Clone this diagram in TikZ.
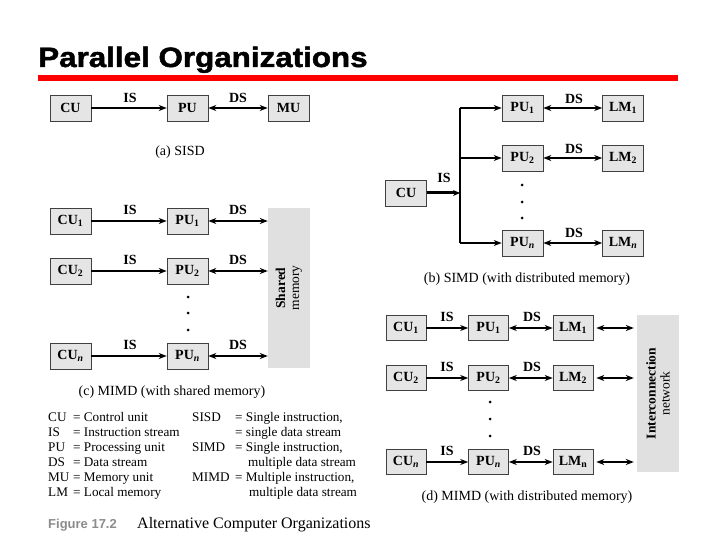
\documentclass[tikz,border=0pt]{standalone}
\usepackage{fontspec}
\setmainfont{Liberation Serif}
\newfontfamily\titlefont[BoldFont={Liberation Sans Bold}, BoldFeatures={FakeBold=1.6}]{Liberation Sans}
\newfontfamily\figfont{Liberation Sans}
\usetikzlibrary{arrows.meta}
\newcommand{\sub}[1]{\textsubscript{\textbf{#1}}}
\newcommand{\subn}{\textsubscript{\textbf{\textit{n}}}}
\begin{document}
\begin{tikzpicture}[x=1pt,y=-1pt,
  box/.style={draw=black!75, fill=black!10, minimum width=41pt, minimum height=26pt, inner sep=0pt,
    font=\fontsize{14}{14}\selectfont\bfseries, line width=0.6pt},
  lbl/.style={font=\fontsize{14}{14}\selectfont\bfseries, inner sep=0pt},
  captxt/.style={font=\fontsize{14}{14}\selectfont, inner sep=0pt},
  leg/.style={font=\fontsize{13.2}{14}\selectfont, inner sep=0pt, anchor=base west},
  arr/.style={-{Stealth[length=8pt,width=6pt]}, line width=1.5pt},
  darr/.style={{Stealth[length=8pt,width=6pt]}-{Stealth[length=8pt,width=6pt]}, line width=1.5pt},
  bigrect/.style={fill=black!12, inner sep=0pt},
  rottxt/.style={rotate=90, align=center, font=\fontsize{13.5}{14}\selectfont, inner sep=0pt},
  dotnode/.style={circle, fill=black, inner sep=0pt, minimum size=3pt}]
\useasboundingbox (0,0) rectangle (720,540);
\fill[white] (0,0) rectangle (720,540);
% title
\node[anchor=base west, inner sep=0pt, xscale=1.12, font=\titlefont\fontsize{28}{30}\selectfont\bfseries] (title) at (38,67) {Parallel Organizations};
\fill[red] (38,75.5) rectangle (678,81);

% (a) SISD
\node[box] (cuA) at (70.5,108) {CU};
\node[box] (puA) at (187.5,108) {PU};
\node[box] (muA) at (288.5,108) {MU};
\draw[arr] (cuA) -- (puA);
\draw[darr] (puA) -- (muA);
\node[lbl] (isA) at (130,98) {IS};
\node[lbl] (dsA) at (238,98) {DS};
\node[captxt] (capA) at (180,152) {(a) SISD};

% (b) SIMD
\node[box] (cuB) at (406,193) {CU};
\node[box] (pu1B) at (522.5,108) {PU\sub{1}};
\node[box] (pu2B) at (522.5,158) {PU\sub{2}};
\node[box] (punB) at (522.5,243) {PU\subn};
\node[box] (lm1B) at (623,108) {LM\sub{1}};
\node[box] (lm2B) at (623,158) {LM\sub{2}};
\node[box] (lmnB) at (623,243) {LM\subn};
\coordinate (b1) at (460,108);
\coordinate (b2) at (460,158);
\coordinate (bm) at (460,193);
\coordinate (bn) at (460,243);
\draw[line width=2pt] (b1) -- (bn);
\draw[-{Stealth[length=7pt,width=6pt]}, line width=3pt] (cuB) -- (bm);
\draw[arr] (b1) -- (pu1B);
\draw[arr] (b2) -- (pu2B);
\draw[arr] (bn) -- (punB);
\draw[darr] (pu1B) -- (lm1B);
\draw[darr] (pu2B) -- (lm2B);
\draw[darr] (punB) -- (lmnB);
\node[lbl] (isB) at (444,178) {IS};
\node[lbl] (ds1B) at (574,99) {DS};
\node[lbl] (ds2B) at (574,149) {DS};
\node[lbl] (dsnB) at (574,233) {DS};
\node[dotnode] (d1B) at (522,185) {};
\node[dotnode] (d2B) at (522,202) {};
\node[dotnode] (d3B) at (522,218) {};
\node[captxt] (capB) at (527,279) {(b) SIMD (with distributed memory)};

% (c) MIMD shared memory
\node[bigrect, minimum width=42pt, minimum height=160pt] (smC) at (289,288) {};
\node[rottxt] (smT) at (289,288) {\textbf{Shared}\\memory};
\node[box] (cu1C) at (70.5,221) {CU\sub{1}};
\node[box] (cu2C) at (70.5,271) {CU\sub{2}};
\node[box] (cunC) at (70.5,356) {CU\subn};
\node[box] (pu1C) at (187.5,221) {PU\sub{1}};
\node[box] (pu2C) at (187.5,271) {PU\sub{2}};
\node[box] (punC) at (187.5,356) {PU\subn};
\draw[arr] (cu1C) -- (pu1C);
\draw[arr] (cu2C) -- (pu2C);
\draw[arr] (cunC) -- (punC);
\draw[darr] (pu1C) -- (pu1C -| smC.west);
\draw[darr] (pu2C) -- (pu2C -| smC.west);
\draw[darr] (punC) -- (punC -| smC.west);
\node[lbl] (is1C) at (130,210) {IS};
\node[lbl] (is2C) at (130,260) {IS};
\node[lbl] (isnC) at (130,345) {IS};
\node[lbl] (ds1C) at (238,210) {DS};
\node[lbl] (ds2C) at (238,260) {DS};
\node[lbl] (dsnC) at (238,345) {DS};
\node[dotnode] (d1C) at (188,297) {};
\node[dotnode] (d2C) at (188,313) {};
\node[dotnode] (d3C) at (188,330) {};
\node[captxt] (capC) at (172,392) {(c) MIMD (with shared memory)};

% (d) MIMD distributed memory
\node[bigrect, minimum width=42pt, minimum height=157pt] (netD) at (658,393.5) {};
\node[rottxt] (netT) at (658,393.5) {\textbf{Interconnection}\\network};
\node[box, minimum width=40pt, minimum height=25pt] (cu1D) at (406,328) {CU\sub{1}};
\node[box, minimum width=40pt, minimum height=25pt] (cu2D) at (406,378) {CU\sub{2}};
\node[box, minimum width=40pt, minimum height=25pt] (cunD) at (406,462) {CU\subn};
\node[box, minimum width=40pt, minimum height=25pt] (pu1D) at (488.5,328) {PU\sub{1}};
\node[box, minimum width=40pt, minimum height=25pt] (pu2D) at (488.5,378) {PU\sub{2}};
\node[box, minimum width=40pt, minimum height=25pt] (punD) at (488.5,462) {PU\subn};
\node[box, minimum width=40pt, minimum height=25pt] (lm1D) at (573,328) {LM\sub{1}};
\node[box, minimum width=40pt, minimum height=25pt] (lm2D) at (573,378) {LM\sub{2}};
\node[box, minimum width=40pt, minimum height=25pt] (lmnD) at (573,462) {LM\sub{n}};
\draw[arr] (cu1D) -- (pu1D);
\draw[arr] (cu2D) -- (pu2D);
\draw[arr] (cunD) -- (punD);
\draw[darr] (pu1D) -- (lm1D);
\draw[darr] (pu2D) -- (lm2D);
\draw[darr] (punD) -- (lmnD);
\draw[darr, shorten <=3pt, shorten >=3pt] (lm1D) -- (lm1D -| netD.west);
\draw[darr, shorten <=3pt, shorten >=3pt] (lm2D) -- (lm2D -| netD.west);
\draw[darr, shorten <=3pt, shorten >=3pt] (lmnD) -- (lmnD -| netD.west);
\node[lbl] (is1D) at (447,317) {IS};
\node[lbl] (is2D) at (447,367) {IS};
\node[lbl] (isnD) at (447,451) {IS};
\node[lbl] (ds1D) at (532,317) {DS};
\node[lbl] (ds2D) at (532,367) {DS};
\node[lbl] (dsnD) at (532,451) {DS};
\node[dotnode] (d1D) at (490,402) {};
\node[dotnode] (d2D) at (490,419) {};
\node[dotnode] (d3D) at (490,436) {};
\node[captxt] (capD) at (527,497) {(d) MIMD (with distributed memory)};

% legend
\node[leg] at (48,421) {CU};  \node[leg] at (73,421) {= Control unit};
\node[leg] at (48,436) {IS};  \node[leg] at (73,436) {= Instruction stream};
\node[leg] at (48,451) {PU};  \node[leg] at (73,451) {= Processing unit};
\node[leg] at (48,466) {DS};  \node[leg] at (73,466) {= Data stream};
\node[leg] at (48,481) {MU};  \node[leg] at (73,481) {= Memory unit};
\node[leg] at (48,496) {LM};  \node[leg] at (73,496) {= Local memory};
\node[leg] at (192,421) {SISD}; \node[leg] at (235,421) {= Single instruction,};
\node[leg] at (235,436) {= single data stream};
\node[leg] at (192,451) {SIMD}; \node[leg] at (235,451) {= Single instruction,};
\node[leg] at (248,466) {multiple data stream};
\node[leg] at (192,481) {MIMD}; \node[leg] at (235,481) {= Multiple instruction,};
\node[leg] at (249,496) {multiple data stream};
\node[anchor=base west, inner sep=0pt, text=black!45, font=\figfont\fontsize{13}{14}\selectfont\bfseries] (fig) at (48,528) {Figure 17.2};
\node[anchor=base west, inner sep=0pt, font=\fontsize{16}{16}\selectfont] (figt) at (137,528) {Alternative Computer Organizations};
\end{tikzpicture}
\end{document}
